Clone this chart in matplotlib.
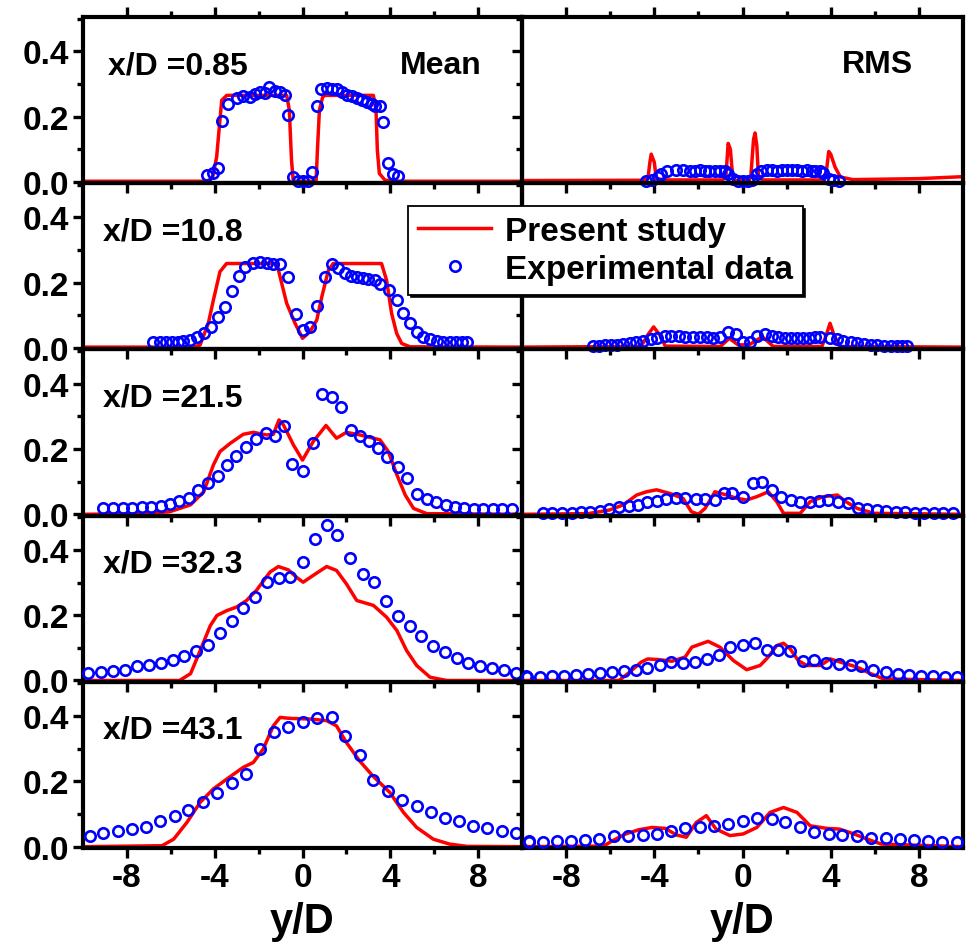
import matplotlib
matplotlib.use("Agg")
import matplotlib.pyplot as plt
from matplotlib.ticker import MultipleLocator, FixedLocator, FormatStrFormatter

plt.rcParams['font.family'] = ['Liberation Sans', 'DejaVu Sans']
plt.rcParams['font.weight'] = 'bold'
plt.rcParams['axes.unicode_minus'] = False

stations = ["x/D =0.85", "x/D =10.8", "x/D =21.5", "x/D =32.3", "x/D =43.1"]

# ---- x/D = 0.85 ----
exp_x_1 = [-4.37, -4.09, -3.84, -3.68, -3.41, -3.0, -2.70, -2.39, -2.16, -1.94, -1.71, -1.51, -1.25,
           -1.02, -0.80, -0.65, -0.42, -0.19, 0.04, 0.27, 0.45, 0.65, 0.83, 1.10, 1.33, 1.56, 1.78,
           2.01, 2.24, 2.47, 2.70, 2.93, 3.15, 3.30, 3.53, 3.65, 3.91, 4.11, 4.37]
exp_mean_1 = [0.02, 0.026, 0.043, 0.187, 0.24, 0.258, 0.262, 0.26, 0.27, 0.276, 0.272, 0.291, 0.279,
              0.276, 0.265, 0.204, 0.015, 0.003, 0.003, 0.003, 0.031, 0.232, 0.283, 0.289, 0.286, 0.283,
              0.276, 0.265, 0.262, 0.258, 0.25, 0.245, 0.238, 0.232, 0.232, 0.184, 0.058, 0.023, 0.017]
exp_rms_1 = [0.004, 0.006, 0.015, 0.025, 0.032, 0.035, 0.035, 0.034, 0.034, 0.035, 0.034, 0.034, 0.033,
             0.033, 0.033, 0.025, 0.008, 0.003, 0.003, 0.003, 0.006, 0.025, 0.034, 0.035, 0.035, 0.034,
             0.035, 0.036, 0.035, 0.035, 0.034, 0.035, 0.034, 0.033, 0.032, 0.026, 0.01, 0.005, 0.004]
sim_mx_1 = [-10, -4.37, -4.1, -3.91, -3.79, -3.68, -3.45, -0.72, -0.60, -0.50, -0.42, 0.62, 0.68, 0.77,
            0.92, 1.03, 3.23, 3.35, 3.41, 3.50, 3.76, 4.44, 10]
sim_mean_1 = [0.002, 0.002, 0.012, 0.077, 0.168, 0.25, 0.265, 0.265, 0.22, 0.066, 0.002, 0.002, 0.097,
              0.22, 0.26, 0.265, 0.265, 0.22, 0.097, 0.026, 0.005, 0.002, 0.002]
sim_rx_1 = [-10, -4.5, -4.29, -4.2, -4.14, -4.0, -3.91, -3.5, -0.9, -0.75, -0.65, -0.55, -0.45, -0.38,
            0.3, 0.38, 0.5, 0.57, 0.65, 0.72, 0.9, 3.6, 3.8, 3.91, 4.0, 4.2, 4.44, 5.0, 8.0, 10]
sim_rms_1 = [0.004, 0.005, 0.01, 0.06, 0.085, 0.06, 0.01, 0.006, 0.006, 0.02, 0.118, 0.1, 0.02, 0.004,
             0.004, 0.02, 0.13, 0.15, 0.11, 0.02, 0.006, 0.006, 0.03, 0.093, 0.085, 0.045, 0.015, 0.007,
             0.01, 0.016]

# ---- x/D = 10.8 ----
exp_x_2 = [-6.80, -6.49, -6.22, -5.96, -5.69, -5.43, -5.12, -4.82, -4.49, -4.17, -3.86, -3.53, -3.23,
           -2.88, -2.62, -2.24, -1.94, -1.63, -1.33, -1.02, -0.65, -0.30, 0.0, 0.34, 0.68, 1.02, 1.33,
           1.63, 1.94, 2.19, 2.47, 2.74, 3.0, 3.30, 3.53, 3.96, 4.29, 4.56, 4.90, 5.20, 5.50, 5.81,
           6.11, 6.41, 6.72, 6.99, 7.25, 7.48]
exp_mean_2 = [0.019, 0.019, 0.019, 0.019, 0.019, 0.021, 0.024, 0.035, 0.047, 0.065, 0.094, 0.127, 0.174,
              0.22, 0.247, 0.261, 0.264, 0.261, 0.259, 0.259, 0.218, 0.104, 0.055, 0.065, 0.129, 0.218,
              0.257, 0.244, 0.229, 0.221, 0.218, 0.216, 0.213, 0.208, 0.196, 0.178, 0.147, 0.106, 0.076,
              0.05, 0.035, 0.027, 0.021, 0.019, 0.019, 0.019, 0.019, 0.019]
exp_rms_2 = [0.007, 0.007, 0.008, 0.009, 0.011, 0.013, 0.016, 0.019, 0.023, 0.028, 0.032, 0.036, 0.037,
             0.036, 0.035, 0.034, 0.033, 0.033, 0.032, 0.034, 0.05, 0.043, 0.018, 0.02, 0.037, 0.043,
             0.036, 0.033, 0.032, 0.032, 0.032, 0.032, 0.032, 0.033, 0.033, 0.032, 0.027, 0.022, 0.018,
             0.015, 0.012, 0.01, 0.008, 0.007, 0.007, 0.007, 0.007, 0.007]
sim_mx_2 = [-10, -5.0, -4.67, -4.29, -4.06, -3.76, -3.46, -1.17, -1.02, -0.72, -0.34, 0.0, 0.34, 0.65,
            0.88, 1.18, 1.4, 3.6, 3.83, 4.06, 4.29, 4.52, 4.9, 10]
sim_mean_2 = [0.003, 0.003, 0.009, 0.076, 0.147, 0.234, 0.259, 0.259, 0.218, 0.137, 0.076, 0.03, 0.05,
              0.086, 0.157, 0.239, 0.259, 0.259, 0.208, 0.106, 0.045, 0.014, 0.004, 0.003]
sim_rx_2 = [-10, -4.6, -4.3, -4.03, -3.75, -3.5, -1.0, -0.6, -0.2, 0.3, 0.9, 1.4, 3.6, 3.8, 3.97, 4.15,
            4.4, 10]
sim_rms_2 = [0.003, 0.005, 0.04, 0.065, 0.04, 0.006, 0.005, 0.03, 0.01, 0.01, 0.035, 0.005, 0.005, 0.04,
             0.076, 0.04, 0.005, 0.003]

# ---- x/D = 21.5 ----
exp_x_3 = [-9.07, -8.62, -8.19, -7.75, -7.33, -6.90, -6.46, -6.04, -5.61, -5.17, -4.75, -4.32, -3.87,
           -3.45, -3.03, -2.59, -2.13, -1.68, -1.25, -0.84, -0.46, 0.01, 0.46, 0.90, 1.33, 1.75, 2.20,
           2.62, 3.04, 3.46, 3.86, 4.34, 4.77, 5.23, 5.66, 6.08, 6.52, 6.95, 7.38, 7.81, 8.24, 8.67,
           9.10, 9.53]
exp_mean_3 = [0.018, 0.018, 0.018, 0.018, 0.021, 0.022, 0.024, 0.031, 0.042, 0.051, 0.073, 0.095, 0.118,
              0.151, 0.18, 0.207, 0.23, 0.248, 0.241, 0.271, 0.154, 0.133, 0.217, 0.368, 0.36, 0.33,
              0.258, 0.241, 0.223, 0.204, 0.174, 0.144, 0.112, 0.061, 0.047, 0.037, 0.029, 0.022, 0.018,
              0.016, 0.016, 0.016, 0.016, 0.016]
exp_rms_3 = [0.005, 0.005, 0.005, 0.005, 0.008, 0.008, 0.011, 0.016, 0.021, 0.024, 0.029, 0.037, 0.041,
             0.047, 0.051, 0.049, 0.047, 0.046, 0.044, 0.066, 0.064, 0.054, 0.095, 0.10, 0.073, 0.052,
             0.044, 0.039, 0.039, 0.042, 0.044, 0.039, 0.034, 0.018, 0.016, 0.013, 0.011, 0.008, 0.006,
             0.005, 0.005, 0.005, 0.005, 0.005]
sim_mx_3 = [-10, -7.1, -6.04, -5.1, -4.5, -4.06, -3.76, -3.3, -2.7, -2.24, -1.63, -1.33, -1.07, -0.87,
            -0.41, 0.0, 0.49, 1.07, 1.55, 2.0, 2.62, 3.53, 3.91, 4.3, 4.68, 5.06, 5.66, 10]
sim_mean_3 = [0.0, 0.002, 0.008, 0.029, 0.069, 0.151, 0.192, 0.217, 0.245, 0.251, 0.243, 0.245, 0.289,
              0.274, 0.212, 0.166, 0.223, 0.272, 0.233, 0.251, 0.243, 0.228, 0.192, 0.121, 0.059, 0.018,
              0.002, 0.0]
sim_rx_3 = [-10, -7.0, -6.04, -5.4, -4.8, -4.35, -3.9, -3.3, -2.7, -2.32, -2.0, -1.7, -1.25, -0.72,
            -0.27, 0.19, 0.65, 1.17, 1.55, 1.86, 2.62, 3.07, 3.67, 4.3, 4.68, 5.2, 5.96, 10]
sim_rms_3 = [0.0, 0.002, 0.013, 0.029, 0.059, 0.069, 0.075, 0.064, 0.049, 0.008, 0.0, 0.018, 0.069,
             0.059, 0.049, 0.044, 0.054, 0.069, 0.039, 0.003, 0.003, 0.039, 0.054, 0.059, 0.039, 0.018,
             0.003, 0.0]

# ---- x/D = 32.3 ----
exp_x_4 = [-9.76, -9.19, -8.65, -8.09, -7.53, -6.99, -6.46, -5.91, -5.38, -4.85, -4.32, -3.76, -3.23,
           -2.70, -2.16, -1.60, -1.07, -0.57, 0.01, 0.57, 1.10, 1.59, 2.17, 2.74, 3.26, 3.80, 4.37,
           4.90, 5.39, 5.93, 6.49, 7.03, 7.56, 8.09, 8.65, 9.18, 9.73, 10.2]
exp_mean_4 = [0.024, 0.026, 0.029, 0.033, 0.043, 0.048, 0.053, 0.063, 0.075, 0.09, 0.109, 0.145, 0.182,
              0.222, 0.257, 0.301, 0.313, 0.316, 0.364, 0.434, 0.477, 0.446, 0.375, 0.327, 0.301, 0.242,
              0.199, 0.166, 0.135, 0.107, 0.087, 0.069, 0.053, 0.043, 0.039, 0.031, 0.024, 0.013]
exp_rms_4 = [0.010, 0.010, 0.013, 0.015, 0.017, 0.021, 0.023, 0.026, 0.028, 0.033, 0.039, 0.048, 0.056,
             0.054, 0.056, 0.066, 0.079, 0.104, 0.110, 0.115, 0.092, 0.092, 0.090, 0.061, 0.063, 0.053,
             0.051, 0.048, 0.043, 0.033, 0.026, 0.021, 0.017, 0.015, 0.013, 0.012, 0.010]
sim_mx_4 = [-10, -5.6, -5.1, -4.66, -4.2, -3.9, -3.45, -3.0, -2.55, -2.1, -1.48, -1.1, -0.65, -0.27, 0.03,
            0.49, 1.10, 1.55, 2.0, 2.47, 3.23, 3.83, 4.3, 4.74, 5.2, 5.81, 6.57, 10]
sim_mean_4 = [0.0, 0.0, 0.021, 0.092, 0.168, 0.199, 0.214, 0.225, 0.245, 0.276, 0.332, 0.349, 0.339,
              0.316, 0.301, 0.322, 0.349, 0.337, 0.296, 0.245, 0.23, 0.194, 0.153, 0.092, 0.046, 0.01,
              0.0, 0.0]
sim_rx_4 = [-10, -5.6, -5.2, -4.6, -4.3, -3.8, -3.2, -2.6, -2.3, -1.56, -1.02, -0.41, 0.19, 0.8, 1.17,
            1.55, 1.86, 2.16, 2.53, 2.91, 3.53, 3.98, 4.6, 5.2, 5.81, 6.4, 10]
sim_rms_4 = [0.0, 0.0, 0.021, 0.056, 0.066, 0.064, 0.059, 0.072, 0.102, 0.12, 0.102, 0.061, 0.033, 0.046,
             0.072, 0.107, 0.114, 0.097, 0.061, 0.046, 0.046, 0.066, 0.053, 0.041, 0.021, 0.005, 0.0]

# ---- x/D = 43.1 ----
exp_x_5 = [-9.68, -9.07, -8.42, -7.78, -7.13, -6.49, -5.81, -5.20, -4.52, -3.88, -3.23, -2.59, -1.94,
           -1.30, -0.65, 0.01, 0.65, 1.33, 1.94, 2.62, 3.23, 3.91, 4.52, 5.20, 5.84, 6.49, 7.14, 7.78,
           8.42, 9.07, 9.73, 10.3]
exp_mean_5 = [0.034, 0.041, 0.049, 0.054, 0.061, 0.078, 0.093, 0.112, 0.136, 0.164, 0.194, 0.224, 0.299,
              0.352, 0.367, 0.381, 0.393, 0.396, 0.34, 0.282, 0.205, 0.171, 0.144, 0.126, 0.107, 0.088,
              0.078, 0.064, 0.056, 0.049, 0.042, 0.016]
exp_rms_5 = [0.013, 0.015, 0.016, 0.018, 0.021, 0.023, 0.032, 0.034, 0.036, 0.039, 0.049, 0.056, 0.059,
             0.064, 0.071, 0.078, 0.087, 0.085, 0.077, 0.059, 0.044, 0.039, 0.036, 0.034, 0.027, 0.026,
             0.023, 0.021, 0.016, 0.015, 0.013]
sim_mx_5 = [-10, -6.4, -5.87, -5.27, -4.66, -4.06, -3.45, -2.7, -2.24, -1.79, -1.33, -1.02, -0.58, 0.34,
            1.1, 1.55, 2.0, 2.6, 3.2, 3.98, 4.6, 5.2, 5.96, 6.7, 7.5, 10]
sim_mean_5 = [0.0, 0.003, 0.023, 0.074, 0.136, 0.177, 0.207, 0.243, 0.258, 0.299, 0.37, 0.396, 0.393,
              0.391, 0.386, 0.37, 0.319, 0.263, 0.217, 0.166, 0.105, 0.059, 0.023, 0.008, 0.001, 0.0]
sim_rx_5 = [-10, -6.3, -5.9, -5.3, -4.7, -4.1, -3.5, -3.0, -2.55, -2.1, -1.64, -1.2, -0.57, 0.03, 0.65,
            1.25, 1.86, 2.47, 3.07, 3.83, 4.4, 5.06, 5.66, 6.3, 10]
sim_rms_5 = [0.0, 0.002, 0.018, 0.039, 0.052, 0.059, 0.056, 0.036, 0.029, 0.074, 0.095, 0.054, 0.034,
             0.039, 0.059, 0.105, 0.12, 0.105, 0.064, 0.056, 0.054, 0.039, 0.023, 0.008, 0.0]

rows = [
    (exp_x_1, exp_mean_1, exp_rms_1, sim_mx_1, sim_mean_1, sim_rx_1, sim_rms_1),
    (exp_x_2, exp_mean_2, exp_rms_2, sim_mx_2, sim_mean_2, sim_rx_2, sim_rms_2),
    (exp_x_3, exp_mean_3, exp_rms_3, sim_mx_3, sim_mean_3, sim_rx_3, sim_rms_3),
    (exp_x_4, exp_mean_4, exp_rms_4, sim_mx_4, sim_mean_4, sim_rx_4, sim_rms_4),
    (exp_x_5, exp_mean_5, exp_rms_5, sim_mx_5, sim_mean_5, sim_rx_5, sim_rms_5),
]

W, H = 966, 945
fig = plt.figure(figsize=(W / 100, H / 100), dpi=100)

left_px = [83, 522]
width_px = [439, 441]
top_px, bot_px = 18, 849
row_h = (bot_px - top_px) / 5

FS = 24
TFS = 23
for r, (ex, em, er, smx, sm, srx, sr) in enumerate(rows):
    for c in range(2):
        ax = fig.add_axes([left_px[c] / W, 1 - (top_px + (r + 1) * row_h) / H,
                           width_px[c] / W, row_h / H])
        ax.patch.set_facecolor('none')
        if c == 0:
            line, = ax.plot(smx, sm, color='red', lw=2.5, zorder=2)
            pts, = ax.plot(ex, em, 'o', mfc='none', mec='blue', ms=7.5, mew=1.9, clip_on=False, zorder=3)
        else:
            ax.plot(srx, sr, color='red', lw=2.5, zorder=2)
            ax.plot(ex[:len(er)], er, 'o', mfc='none', mec='blue', ms=7.5, mew=1.9, clip_on=False, zorder=3)

        ax.set_xlim(-10, 10)
        ax.set_ylim(-0.004, 0.505)
        ax.xaxis.set_major_locator(MultipleLocator(4))
        ax.xaxis.set_minor_locator(FixedLocator([-6, -2, 2, 6]))
        ax.yaxis.set_major_locator(MultipleLocator(0.2))
        ax.yaxis.set_minor_locator(MultipleLocator(0.1))
        ax.yaxis.set_major_formatter(FormatStrFormatter('%.1f'))
        for s in ax.spines.values():
            s.set_linewidth(3)
        ax.tick_params(which='both', direction='out', width=2.4, top=(r == 0), bottom=True,
                       left=True, right=False, labelbottom=(r == 4), labelleft=(c == 0),
                       labelsize=FS, pad=3)
        ax.tick_params(which='major', length=7)
        ax.tick_params(which='minor', length=4)
        for lab in ax.get_xticklabels() + ax.get_yticklabels():
            lab.set_fontweight('bold')

        if c == 0:
            ax.text(0.057 if r == 0 else 0.045, 0.71, stations[r], transform=ax.transAxes,
                    fontsize=TFS, fontweight='bold', va='center', ha='left')
            if r == 0:
                ax.text(0.908, 0.71, "Mean", transform=ax.transAxes, fontsize=TFS,
                        fontweight='bold', va='center', ha='right')
                handles = [line, pts]
        elif r == 0:
            ax.text(0.887, 0.72, "RMS", transform=ax.transAxes, fontsize=TFS,
                    fontweight='bold', va='center', ha='right')
        if r == 4:
            ax.set_xlabel("y/D", fontsize=30, fontweight='bold', labelpad=6)

leg = fig.legend(handles, ["Present study", "Experimental data"], loc='upper left',
                 bbox_to_anchor=(408 / W, 1 - 207 / H), borderaxespad=0, fancybox=False,
                 edgecolor='black', framealpha=1, fontsize=24, handlelength=2.2,
                 handletextpad=0.4, borderpad=0.3, labelspacing=0.2,
                 shadow={'color': 'black', 'alpha': 0.9})
leg.get_frame().set_linewidth(1.3)
for t in leg.get_texts():
    t.set_fontweight('bold')

fig.savefig("out.png", dpi=100)
